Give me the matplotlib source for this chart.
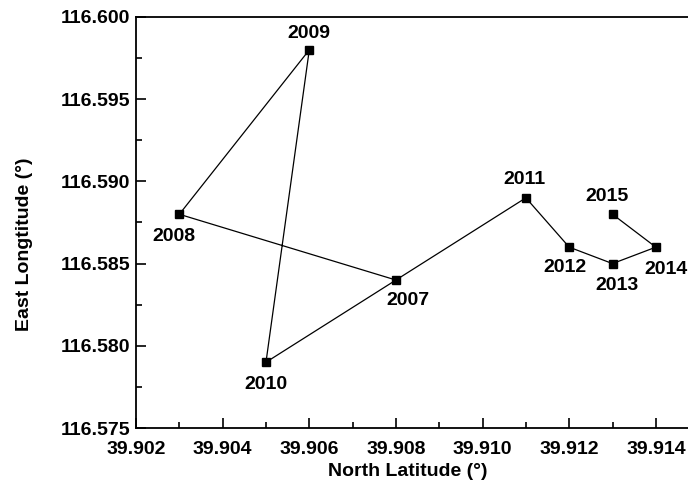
import numpy as np
import matplotlib.pyplot as plt
from matplotlib.ticker import MultipleLocator, FormatStrFormatter
import matplotlib.transforms as mtransforms

plt.rcParams['font.family'] = ['Liberation Sans', 'DejaVu Sans']
plt.rcParams['font.weight'] = 'bold'
plt.rcParams['font.size'] = 13.5

years = ['2007', '2008', '2009', '2010', '2011', '2012', '2013', '2014', '2015']
lat = [39.908, 39.903, 39.906, 39.905, 39.911, 39.912, 39.913, 39.914, 39.913]
lon = [116.584, 116.588, 116.598, 116.579, 116.589, 116.586, 116.585, 116.586, 116.588]

# label offsets in points (dx, dy) around each marker
offsets = [(9, -15), (-4, -16), (0, 12), (0, -16), (-1, 13),
           (-3, -15), (3, -16), (7.5, -16), (-4, 13)]

fig = plt.figure(figsize=(6.88, 4.94), dpi=100)
ax = fig.add_axes([0.1977, 0.1336, 0.85, 0.832])

ax.plot(lat, lon, 'k-', lw=0.9, marker='s', ms=6, mfc='k', mec='k')

for y, x0, y0, (dx, dy) in zip(years, lat, lon, offsets):
    ax.annotate(y, (x0, y0), xytext=(dx, dy), textcoords='offset points',
                ha='center', va='center', fontweight='bold', fontsize=14)

ax.set_xlim(39.902, 39.9155)
ax.set_ylim(116.575, 116.600)
ax.xaxis.set_major_locator(MultipleLocator(0.002))
ax.xaxis.set_minor_locator(MultipleLocator(0.001))
ax.yaxis.set_major_locator(MultipleLocator(0.005))
ax.yaxis.set_minor_locator(MultipleLocator(0.0025))
ax.xaxis.set_major_formatter(FormatStrFormatter('%.3f'))
ax.yaxis.set_major_formatter(FormatStrFormatter('%.3f'))

ax.tick_params(which='both', direction='in', width=1.2, labelsize=14)
ax.tick_params(which='major', length=7)
ax.tick_params(which='minor', length=4)
ax.tick_params(axis='x', pad=9)
ax.tick_params(axis='y', pad=4)
for s in ax.spines.values():
    s.set_linewidth(1.3)
ax.spines['right'].set_visible(False)

# nudge the first x label clear of the y tick labels
first = ax.get_xticklabels()[0]
first.set_transform(first.get_transform() +
                    mtransforms.ScaledTranslation(9 / 72, 0, fig.dpi_scale_trans))

ax.set_xlabel('North Latitude (°)', fontweight='bold', fontsize=14)
ax.set_ylabel('East Longtitude (°)', fontweight='bold', fontsize=14)
ax.xaxis.set_label_coords(0.465, -0.085)
ax.yaxis.set_label_coords(-0.176, 0.448)

fig.savefig('out.png', dpi=100)
